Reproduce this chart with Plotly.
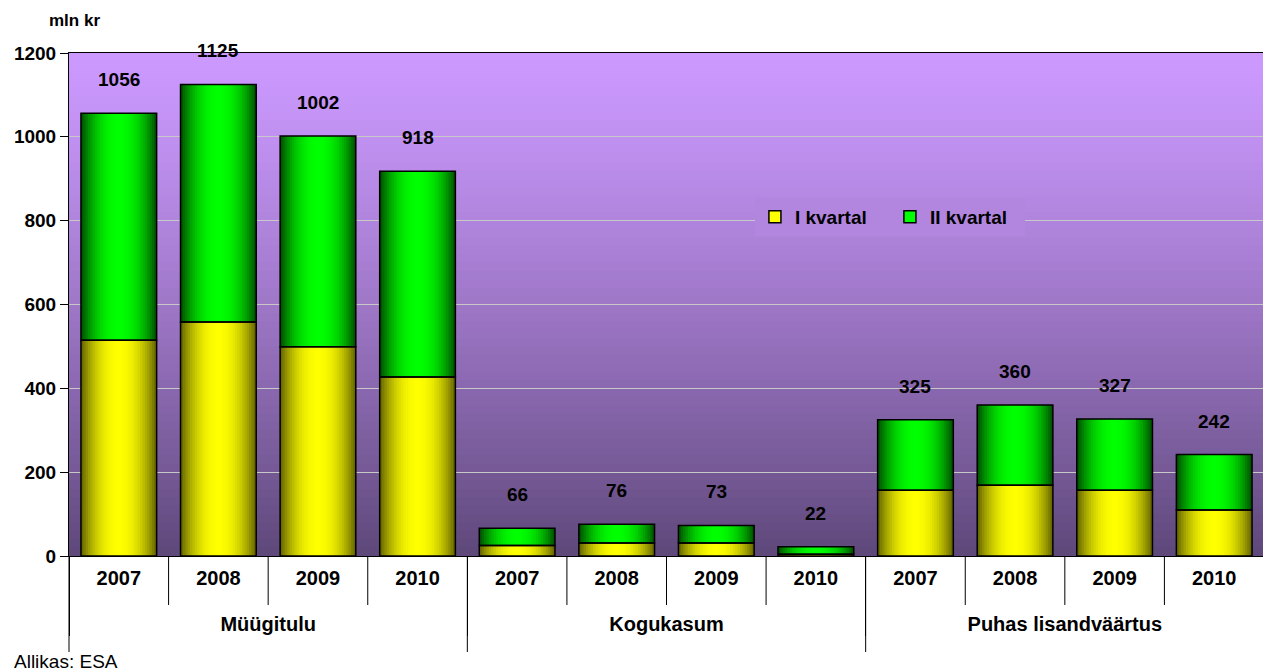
import plotly.graph_objects as go

# andmed
grupid = ['<br>Müügitulu'] * 4 + ['<br>Kogukasum'] * 4 + ['<br>Puhas lisandväärtus'] * 4
aastad = ['2007', '2008', '2009', '2010'] * 3
kvartal_1 = [515, 558, 499, 427, 25, 31, 31, 4, 157, 169, 157, 110]
kvartal_2 = [541, 567, 503, 491, 41, 45, 42, 18, 168, 191, 170, 132]
kokku = [1056, 1125, 1002, 918, 66, 76, 73, 22, 325, 360, 327, 242]

FONT = 'Liberation Sans, Arial'
FS = 19
kollane = ((105, 105, 0), (255, 255, 0))
roheline = ((0, 85, 0), (0, 255, 0))
taust = ((204, 153, 255), (94, 72, 122))


def mix(c0, c1, t):
    return 'rgb(%d,%d,%d)' % tuple(round(a + (b - a) * t) for a, b in zip(c0, c1))


fig = go.Figure()

# tulbad: kihid kitsamaks ja heledamaks -> varvigradient
BAR_W = 0.76
N = 16
for k in range(N):
    f = 1 - k / N
    t = 1 - f ** 2.2
    fig.add_trace(go.Bar(x=[grupid, aastad], y=kvartal_1, base=[0] * len(kvartal_1),
                         width=BAR_W * f, marker_color=mix(*kollane, t),
                         marker_line_width=0, showlegend=False, hoverinfo='skip'))
    fig.add_trace(go.Bar(x=[grupid, aastad], y=kvartal_2, base=kvartal_1,
                         width=BAR_W * f, marker_color=mix(*roheline, t),
                         marker_line_width=0, showlegend=False, hoverinfo='skip'))

# kontuurid peale
fig.add_trace(go.Bar(x=[grupid, aastad], y=kvartal_1, base=[0] * len(kvartal_1), width=BAR_W,
                     marker=dict(color='rgba(0,0,0,0)', line=dict(color='black', width=1.5)),
                     showlegend=False, name='I kvartal'))
fig.add_trace(go.Bar(x=[grupid, aastad], y=kvartal_2, base=kvartal_1, width=BAR_W,
                     marker=dict(color='rgba(0,0,0,0)', line=dict(color='black', width=1.5)),
                     showlegend=False, name='II kvartal'))

# legendi jaoks
fig.add_trace(go.Bar(x=[[grupid[0]], [aastad[0]]], y=[None], name='I kvartal',
                     marker=dict(color='#ffff00', line=dict(color='black', width=1.5))))
fig.add_trace(go.Bar(x=[[grupid[0]], [aastad[0]]], y=[None], name='II kvartal',
                     marker=dict(color='#00ff00', line=dict(color='black', width=1.5))))

# summad tulpade kohal
for i, v in enumerate(kokku):
    fig.add_annotation(x=i, y=v, text='<b>%d</b>' % v, showarrow=False, yanchor='bottom',
                       yshift=21, font=dict(family=FONT, size=FS, color='black'))

# taust
shapes = []
S = 60
for i in range(S):
    t = ((i + 0.5) / S) ** 1.25
    shapes.append(dict(type='rect', xref='paper', yref='paper', x0=0, x1=1,
                       y0=max(0, 1 - (i + 1.6) / S), y1=1 - i / S, fillcolor=mix(*taust, t),
                       line_width=0, layer='below'))
# aastate ja gruppide vahejooned
for i in range(11):
    if i in (3, 7):
        continue
    shapes.append(dict(type='line', xref='x', yref='paper', x0=i + 0.5, x1=i + 0.5,
                       y0=0, y1=-49 / 503, line=dict(color='black', width=1)))
for gx in (3.5, 7.5):
    shapes.append(dict(type='line', xref='x', yref='paper', x0=gx, x1=gx,
                       y0=0, y1=-96 / 503, line=dict(color='black', width=1)))
for px in (0, 1):
    shapes.append(dict(type='line', xref='paper', yref='paper', x0=px, x1=px,
                       y0=0, y1=-96 / 503, line=dict(color='black', width=1)))
fig.update_layout(shapes=shapes)

fig.add_annotation(x=-0.0184, y=1.0656, xref='paper', yref='paper', xanchor='left',
                   yanchor='middle', text='<b>mln kr</b>', showarrow=False,
                   font=dict(family=FONT, size=17, color='black'))
fig.add_annotation(x=-0.0476, y=-0.2107, xref='paper', yref='paper', xanchor='left',
                   yanchor='middle', text='Allikas: ESA', showarrow=False,
                   font=dict(family=FONT, size=FS, color='black'))

fig.update_layout(
    width=1263, height=664,
    margin=dict(l=60, r=6, t=45, b=116),
    barmode='overlay',
    paper_bgcolor='white',
    plot_bgcolor='white',
    font=dict(family=FONT, size=FS, color='black'),
    legend=dict(orientation='h', x=0.574, y=0.712, xanchor='left', yanchor='top',
                bgcolor=mix(*taust, 0.24),
                font=dict(family=FONT, size=FS, color='black', weight='bold'),
                entrywidth=90, traceorder='normal'),
    xaxis=dict(type='multicategory', showline=True, linecolor='black', linewidth=1,
               mirror=True, ticks='', ticklabelstandoff=4,
               showdividers=True, dividercolor='black',
               dividerwidth=1, tickfont=dict(family=FONT, size=20, color='black',
                                              weight='bold')),
    yaxis=dict(range=[0, 1200], dtick=200, showline=True, linecolor='black', linewidth=1,
               mirror=True, ticks='outside', ticklen=8, tickcolor='black',
               showgrid=True, gridcolor='#c8c8c8', gridwidth=1, zeroline=False,
               tickfont=dict(family=FONT, size=FS, color='black', weight='bold')),
)

fig.write_html('out.html')
